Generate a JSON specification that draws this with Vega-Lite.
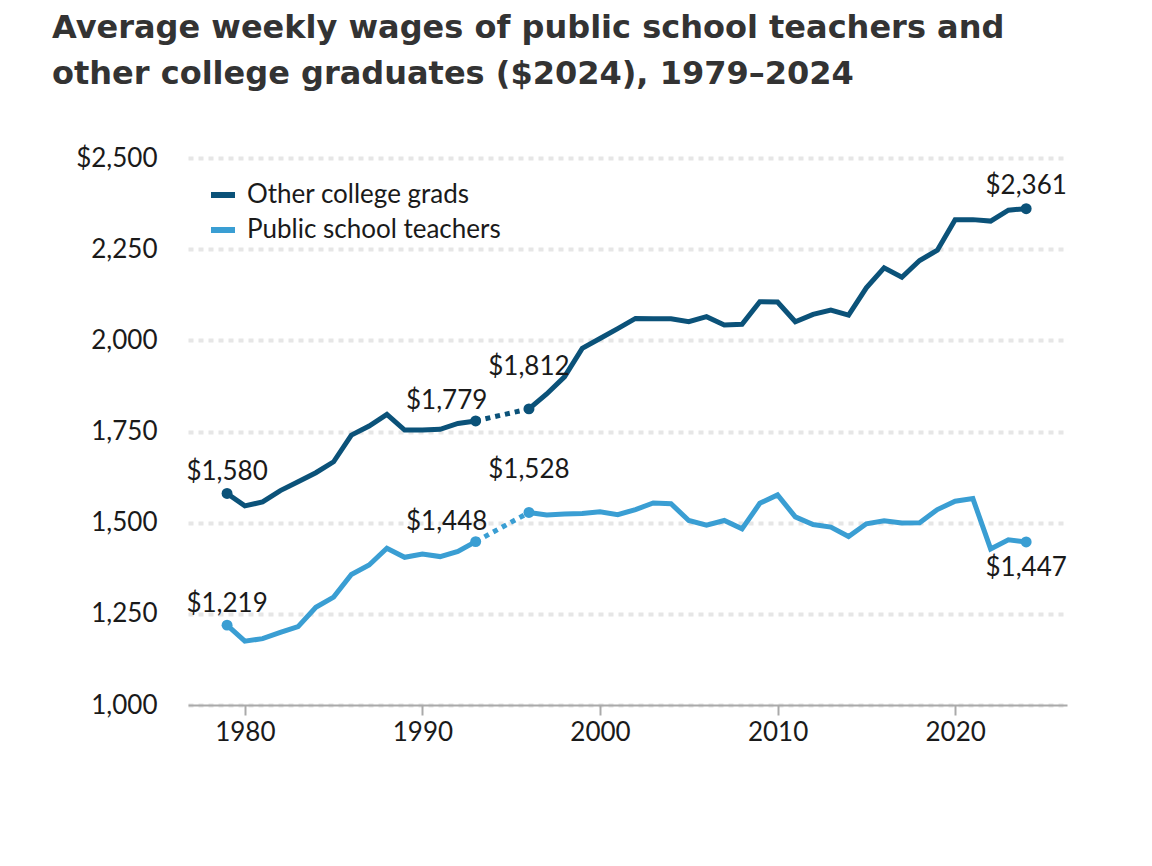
{
  "$schema": "https://vega.github.io/schema/vega-lite/v6.json",
  "width": 879,
  "height": 547,
  "autosize": {"type": "none"},
  "padding": {"left": 188, "top": 158, "right": 85, "bottom": 161},
  "background": "white",
  "title": {
    "text": ["Average weekly wages of public school teachers and", "other college graduates ($2024), 1979–2024"],
    "anchor": "start",
    "frame": "group",
    "dx": -136,
    "offset": 54,
    "font": "DejaVu Sans",
    "fontSize": 32,
    "fontWeight": "bold",
    "lineHeight": 46,
    "color": "#333333"
  },
  "config": {
    "view": {"stroke": null},
    "font": "Lato",
    "text": {"font": "Lato"}
  },
  "data": {
    "values": [
      {"year": 1979, "series": "Other college grads", "wage": 1580},
      {"year": 1980, "series": "Other college grads", "wage": 1546},
      {"year": 1981, "series": "Other college grads", "wage": 1557},
      {"year": 1982, "series": "Other college grads", "wage": 1588},
      {"year": 1983, "series": "Other college grads", "wage": 1612},
      {"year": 1984, "series": "Other college grads", "wage": 1637},
      {"year": 1985, "series": "Other college grads", "wage": 1667},
      {"year": 1986, "series": "Other college grads", "wage": 1740},
      {"year": 1987, "series": "Other college grads", "wage": 1765},
      {"year": 1988, "series": "Other college grads", "wage": 1797},
      {"year": 1989, "series": "Other college grads", "wage": 1754},
      {"year": 1990, "series": "Other college grads", "wage": 1754},
      {"year": 1991, "series": "Other college grads", "wage": 1756},
      {"year": 1992, "series": "Other college grads", "wage": 1772},
      {"year": 1993, "series": "Other college grads", "wage": 1779},
      {"year": 1996, "series": "Other college grads", "wage": 1812},
      {"year": 1997, "series": "Other college grads", "wage": 1853},
      {"year": 1998, "series": "Other college grads", "wage": 1900},
      {"year": 1999, "series": "Other college grads", "wage": 1978},
      {"year": 2000, "series": "Other college grads", "wage": 2005},
      {"year": 2001, "series": "Other college grads", "wage": 2032},
      {"year": 2002, "series": "Other college grads", "wage": 2060},
      {"year": 2003, "series": "Other college grads", "wage": 2059},
      {"year": 2004, "series": "Other college grads", "wage": 2059},
      {"year": 2005, "series": "Other college grads", "wage": 2051},
      {"year": 2006, "series": "Other college grads", "wage": 2065},
      {"year": 2007, "series": "Other college grads", "wage": 2042},
      {"year": 2008, "series": "Other college grads", "wage": 2044},
      {"year": 2009, "series": "Other college grads", "wage": 2106},
      {"year": 2010, "series": "Other college grads", "wage": 2105},
      {"year": 2011, "series": "Other college grads", "wage": 2051},
      {"year": 2012, "series": "Other college grads", "wage": 2071},
      {"year": 2013, "series": "Other college grads", "wage": 2083},
      {"year": 2014, "series": "Other college grads", "wage": 2069},
      {"year": 2015, "series": "Other college grads", "wage": 2144},
      {"year": 2016, "series": "Other college grads", "wage": 2199},
      {"year": 2017, "series": "Other college grads", "wage": 2173},
      {"year": 2018, "series": "Other college grads", "wage": 2219},
      {"year": 2019, "series": "Other college grads", "wage": 2247},
      {"year": 2020, "series": "Other college grads", "wage": 2331},
      {"year": 2021, "series": "Other college grads", "wage": 2331},
      {"year": 2022, "series": "Other college grads", "wage": 2327},
      {"year": 2023, "series": "Other college grads", "wage": 2357},
      {"year": 2024, "series": "Other college grads", "wage": 2361},
      {"year": 1979, "series": "Public school teachers", "wage": 1219},
      {"year": 1980, "series": "Public school teachers", "wage": 1175},
      {"year": 1981, "series": "Public school teachers", "wage": 1182},
      {"year": 1982, "series": "Public school teachers", "wage": 1199},
      {"year": 1983, "series": "Public school teachers", "wage": 1215},
      {"year": 1984, "series": "Public school teachers", "wage": 1268},
      {"year": 1985, "series": "Public school teachers", "wage": 1296},
      {"year": 1986, "series": "Public school teachers", "wage": 1358},
      {"year": 1987, "series": "Public school teachers", "wage": 1384},
      {"year": 1988, "series": "Public school teachers", "wage": 1430},
      {"year": 1989, "series": "Public school teachers", "wage": 1405},
      {"year": 1990, "series": "Public school teachers", "wage": 1414},
      {"year": 1991, "series": "Public school teachers", "wage": 1407},
      {"year": 1992, "series": "Public school teachers", "wage": 1421},
      {"year": 1993, "series": "Public school teachers", "wage": 1448},
      {"year": 1996, "series": "Public school teachers", "wage": 1528},
      {"year": 1997, "series": "Public school teachers", "wage": 1521},
      {"year": 1998, "series": "Public school teachers", "wage": 1524},
      {"year": 1999, "series": "Public school teachers", "wage": 1525},
      {"year": 2000, "series": "Public school teachers", "wage": 1530},
      {"year": 2001, "series": "Public school teachers", "wage": 1522},
      {"year": 2002, "series": "Public school teachers", "wage": 1536},
      {"year": 2003, "series": "Public school teachers", "wage": 1554},
      {"year": 2004, "series": "Public school teachers", "wage": 1552},
      {"year": 2005, "series": "Public school teachers", "wage": 1506},
      {"year": 2006, "series": "Public school teachers", "wage": 1493},
      {"year": 2007, "series": "Public school teachers", "wage": 1506},
      {"year": 2008, "series": "Public school teachers", "wage": 1483},
      {"year": 2009, "series": "Public school teachers", "wage": 1553},
      {"year": 2010, "series": "Public school teachers", "wage": 1576},
      {"year": 2011, "series": "Public school teachers", "wage": 1516},
      {"year": 2012, "series": "Public school teachers", "wage": 1495},
      {"year": 2013, "series": "Public school teachers", "wage": 1488},
      {"year": 2014, "series": "Public school teachers", "wage": 1462},
      {"year": 2015, "series": "Public school teachers", "wage": 1497},
      {"year": 2016, "series": "Public school teachers", "wage": 1505},
      {"year": 2017, "series": "Public school teachers", "wage": 1499},
      {"year": 2018, "series": "Public school teachers", "wage": 1500},
      {"year": 2019, "series": "Public school teachers", "wage": 1536},
      {"year": 2020, "series": "Public school teachers", "wage": 1559},
      {"year": 2021, "series": "Public school teachers", "wage": 1566},
      {"year": 2022, "series": "Public school teachers", "wage": 1428},
      {"year": 2023, "series": "Public school teachers", "wage": 1453},
      {"year": 2024, "series": "Public school teachers", "wage": 1447}
    ]
  },
  "encoding": {
    "x": {
      "field": "year",
      "type": "quantitative",
      "scale": {"domain": [1976.8, 2026.3], "nice": false, "zero": false},
      "axis": {
        "title": null,
        "values": [1980, 1990, 2000, 2010, 2020],
        "format": "d",
        "grid": false,
        "domainColor": "#aaaaaa",
        "domainWidth": 2,
        "tickColor": "#aaaaaa",
        "tickWidth": 2,
        "tickSize": 10,
        "labelFont": "Lato",
        "labelFontSize": 26,
        "labelColor": "#1a1a1a",
        "labelPadding": 4
      }
    },
    "y": {
      "field": "wage",
      "type": "quantitative",
      "scale": {"domain": [1000, 2500], "nice": false, "zero": false},
      "axis": {
        "title": null,
        "values": [1000, 1250, 1500, 1750, 2000, 2250, 2500],
        "labelExpr": "datum.value == 2500 ? '$2,500' : format(datum.value, ',')",
        "domain": false,
        "ticks": false,
        "grid": true,
        "gridColor": "#e6e6e6",
        "gridWidth": 4,
        "gridDash": [5, 5],
        "labelFont": "Lato",
        "labelFontSize": 26,
        "labelColor": "#1a1a1a",
        "labelPadding": 31
      }
    },
    "color": {
      "field": "series",
      "type": "nominal",
      "scale": {"domain": ["Other college grads", "Public school teachers"], "range": ["#0b5279", "#3a9ed3"]},
      "legend": {
        "title": null,
        "orient": "none",
        "legendX": 20,
        "legendY": 22,
        "symbolType": "stroke",
        "symbolStrokeWidth": 6,
        "symbolSize": 576,
        "labelFont": "Lato",
        "labelFontSize": 26,
        "labelColor": "#1a1a1a",
        "labelOffset": 9,
        "rowPadding": 7,
        "labelLimit": 400
      }
    }
  },
  "layer": [
    {
      "transform": [{"filter": "datum.year <= 1993"}],
      "mark": {"type": "line", "strokeWidth": 5, "strokeJoin": "miter"}
    },
    {
      "transform": [{"filter": "datum.year >= 1996"}],
      "mark": {"type": "line", "strokeWidth": 5, "strokeJoin": "miter"}
    },
    {
      "transform": [{"filter": "datum.year == 1993 || datum.year == 1996"}],
      "mark": {"type": "line", "strokeWidth": 5, "strokeDash": [5, 5]}
    },
    {
      "transform": [{"filter": "datum.year == 1979 || datum.year == 1993 || datum.year == 1996 || datum.year == 2024"}],
      "mark": {"type": "point", "filled": true, "opacity": 1, "size": 120}
    },
    {
      "transform": [{"filter": "datum.year == 1979"}],
      "mark": {"type": "text", "dy": -21, "fontSize": 26, "font": "Lato", "baseline": "middle"},
      "encoding": {"text": {"field": "wage", "type": "quantitative", "format": "$,.0f"}, "color": {"value": "#1a1a1a"}}
    },
    {
      "transform": [{"filter": "datum.year == 1993"}],
      "mark": {"type": "text", "dx": -29, "dy": -20, "fontSize": 26, "font": "Lato", "baseline": "middle"},
      "encoding": {"text": {"field": "wage", "type": "quantitative", "format": "$,.0f"}, "color": {"value": "#1a1a1a"}}
    },
    {
      "transform": [{"filter": "datum.year == 1996"}],
      "mark": {"type": "text", "dy": -42, "fontSize": 26, "font": "Lato", "baseline": "middle"},
      "encoding": {"text": {"field": "wage", "type": "quantitative", "format": "$,.0f"}, "color": {"value": "#1a1a1a"}}
    },
    {
      "transform": [{"filter": "datum.year == 2024 && datum.series == 'Other college grads'"}],
      "mark": {"type": "text", "dy": -23, "fontSize": 26, "font": "Lato", "baseline": "middle"},
      "encoding": {"text": {"field": "wage", "type": "quantitative", "format": "$,.0f"}, "color": {"value": "#1a1a1a"}}
    },
    {
      "transform": [{"filter": "datum.year == 2024 && datum.series == 'Public school teachers'"}],
      "mark": {"type": "text", "dy": 26, "fontSize": 26, "font": "Lato", "baseline": "middle"},
      "encoding": {"text": {"field": "wage", "type": "quantitative", "format": "$,.0f"}, "color": {"value": "#1a1a1a"}}
    }
  ]
}
